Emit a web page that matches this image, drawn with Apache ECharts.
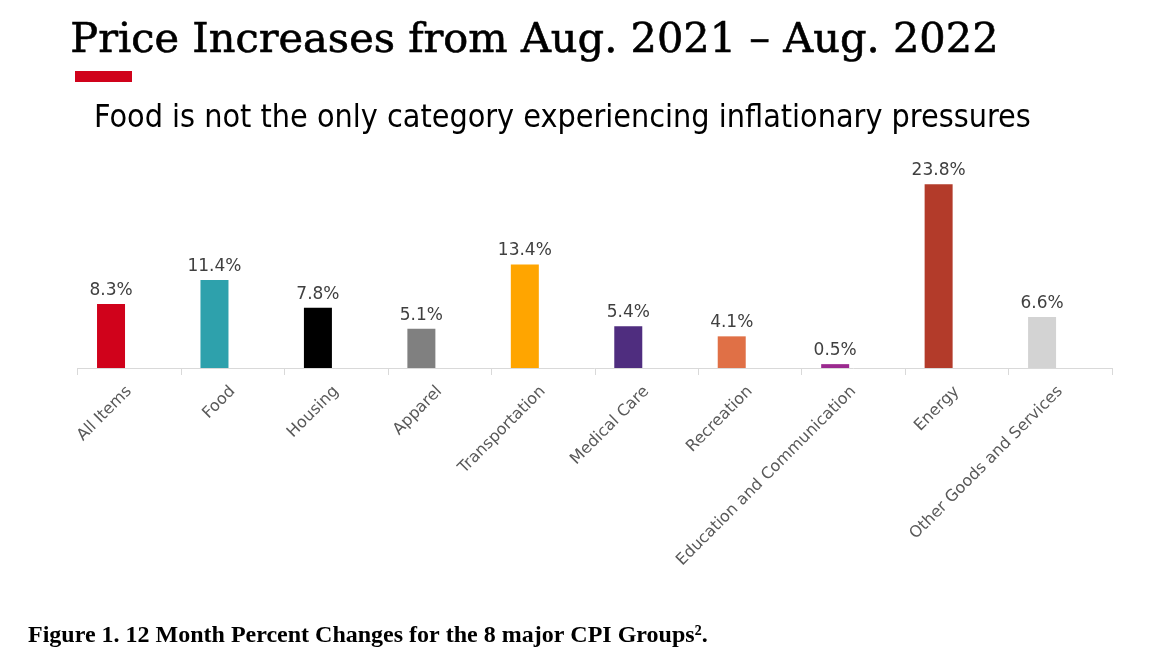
<!DOCTYPE html>
<html>
<head>
<meta charset="utf-8">
<script src="https://cdn.jsdelivr.net/npm/echarts@6/dist/echarts.min.js"></script>
<style>
  html, body { margin: 0; padding: 0; background: #ffffff; }
  #chart { width: 1159px; height: 665px; }
</style>
</head>
<body>
<div id="chart"></div>
<script>
// ---- data ----
const categories = ['All Items', 'Food', 'Housing', 'Apparel', 'Transportation', 'Medical Care', 'Recreation', 'Education and Communication', 'Energy', 'Other Goods and Services'];
const values = [8.3, 11.4, 7.8, 5.1, 13.4, 5.4, 4.1, 0.5, 23.8, 6.6];
const titleText = 'Price Increases from Aug. 2021 \u2013 Aug. 2022';
const subtitleText = 'Food is not the only category experiencing inflationary pressures';
const captionText = 'Figure 1. 12 Month Percent Changes for the 8 major CPI Groups\u00B2.';

// ---- style ----
const barColors = ['#D0021B', '#2EA1AC', '#000000', '#808080', '#FFA500', '#4F2D7F', '#E07046', '#9B2A8F', '#B33B2A', '#D3D3D3'];

const chart = echarts.init(document.getElementById('chart'), null, { renderer: 'canvas' });
chart.setOption({
  backgroundColor: '#ffffff',
  animation: false,
  grid: { left: 77.5, right: 47, top: 175, bottom: 297, containLabel: false },
  xAxis: {
    type: 'category',
    data: categories,
    axisLine: { lineStyle: { color: '#D9D9D9', width: 1 } },
    axisTick: { show: true, length: 7, lineStyle: { color: '#D9D9D9' } },
    axisLabel: {
      rotate: 45, interval: 0, margin: 21,
      color: '#595959', fontSize: 16, fontFamily: 'DejaVu Sans'
    }
  },
  yAxis: {
    type: 'value', min: 0, max: 25, show: false,
    splitLine: { show: false }
  },
  series: [
    {
      type: 'bar',
      data: values,
      barWidth: 28,
      barGap: '30%',
      itemStyle: { color: p => barColors[p.dataIndex] },
      label: {
        show: true, position: 'top', distance: 5,
        formatter: p => p.value.toFixed(1) + '%',
        color: '#404040', fontSize: 17, fontFamily: 'DejaVu Sans'
      }
    },
    {
      type: 'bar',
      data: categories.map(() => null),
      barWidth: 28,
      silent: true
    }
  ],
  graphic: [
    {
      type: 'text', left: 70, top: 20,
      style: { text: titleText, font: '41.5px "DejaVu Serif"', fill: '#000000', stroke: '#000000', lineWidth: 0.6 }
    },
    {
      type: 'rect', shape: { x: 75, y: 71, width: 57, height: 11 },
      style: { fill: '#D0021B' }
    },
    {
      type: 'text', left: 94, top: 103,
      style: { text: subtitleText, font: '32px "Liberation Sans Narrow", "DejaVu Sans Condensed", "Liberation Sans"', fill: '#000000' }
    },
    {
      type: 'text', left: 28, top: 624,
      style: { text: captionText, font: 'bold 24px "Liberation Serif"', fill: '#000000' }
    }
  ]
});
</script>
</body>
</html>
